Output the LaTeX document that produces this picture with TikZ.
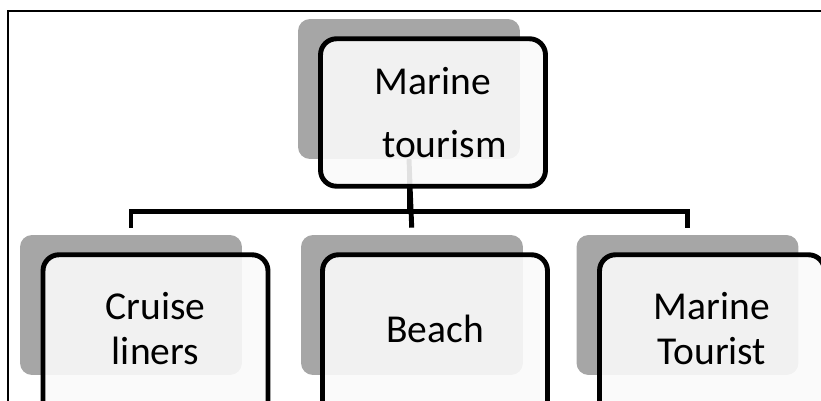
\documentclass[tikz,border=0pt]{standalone}
\usepackage{fontspec}
\setmainfont{Carlito}
\newcommand{\lowpad}{\rule[-16pt]{0pt}{16pt}}
\begin{document}
\begin{tikzpicture}[x=0.02cm, y=-0.02cm,
    shadowbox/.style={fill=black!35, rounded corners=0.24cm, minimum width=4.44cm, minimum height=2.8cm, inner sep=0pt},
    box/.style={draw=black, line width=2.8pt, rounded corners=0.32cm, fill=black!2, fill opacity=0.9, text opacity=1,
        minimum width=4.5cm, minimum height=2.95cm, inner sep=0pt, align=center, font=\fontsize{22.5}{26}\selectfont},
    lowbox/.style={box, minimum height=3.51cm},
    link/.style={draw=black, line width=2.8pt}]
    \useasboundingbox (0,0) rectangle (821,401);
    \clip (0,0) rectangle (821,401);
    % frame
    \draw[line width=1.1pt] (8,405) -- (8,11) -- (830,11);

    % shadows
    \node[shadowbox] (s0) at (409,89) {};
    \node[shadowbox] (s1) at (131,305) {};
    \node[shadowbox] (s2) at (412,305) {};
    \node[shadowbox] (s3) at (687.5,305) {};

    % connectors
    \draw[link, shorten >=0.14cm] (s0.south) -- ++(0,52) -| (s1.north);
    \draw[link, shorten >=0.14cm] (s0.south) -- ++(0,52) -| (s3.north);
    \draw[link, shorten >=0.14cm] (s0.south) -- (s2.north);

    % boxes
    \node[box] (top) at (433,112.5) {Marine\\[10pt]\hspace*{13pt}tourism};
    \node[lowbox] (cruise) at (155.5,342.5) {Cruise\\liners\lowpad};
    \node[lowbox] (beach) at (435,342.5) {Beach\lowpad};
    \node[lowbox] (tourist) at (712,342.5) {Marine\\Tourist\lowpad};
\end{tikzpicture}
\end{document}
